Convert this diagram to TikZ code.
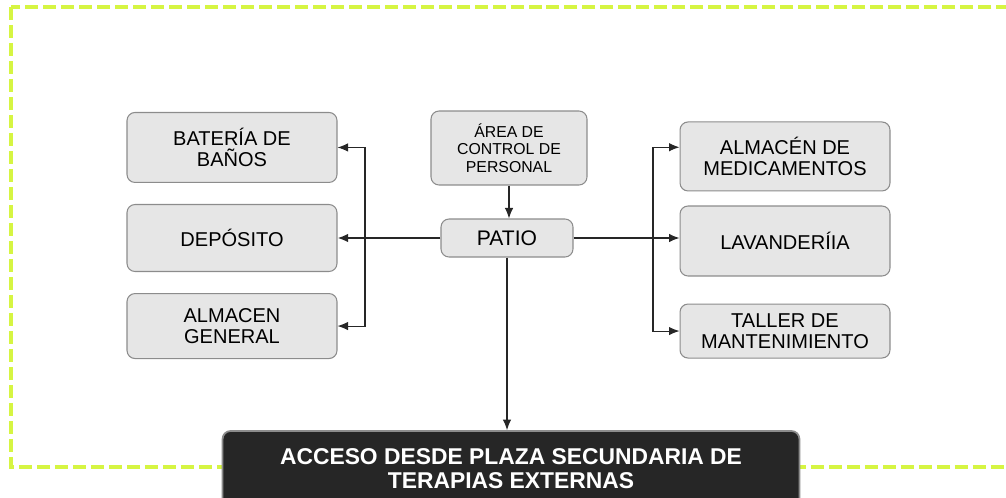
\documentclass[tikz,border=0pt]{standalone}
\usepackage{fontspec}
\setmainfont{Liberation Sans}
\usetikzlibrary{arrows.meta,positioning}

\definecolor{boxfill}{RGB}{230,230,230}
\definecolor{boxline}{RGB}{140,140,140}
\definecolor{darkfill}{RGB}{38,38,38}
\definecolor{lime}{RGB}{214,245,66}

\begin{document}
\begin{tikzpicture}[x=0.02cm,y=-0.02cm,>={Latex[length=2.1mm,width=1.7mm]},
                    line width=0.6pt]

  \tikzstyle{area}=[rectangle,draw=boxline,fill=boxfill,rounded corners=0.16cm,
                    align=center,inner sep=2pt]
  \tikzstyle{sidebox}=[area,minimum width=4.2cm,
                       font=\fontsize{11.4}{12}\selectfont]
  \tikzstyle{accessbox}=[rectangle,draw=boxline,fill=darkfill,text=white,
                         rounded corners=0.16cm,align=center,line width=1pt,
                         minimum width=11.54cm,minimum height=1.52cm,
                         font=\bfseries\fontsize{13}{13.6}\selectfont]
  \tikzstyle{link}=[->,black!85]

  \useasboundingbox (0,0) rectangle (1006,497);

  % frame
  \draw[lime,line width=2.2pt,dash pattern=on 0.26cm off 0.1cm]
    (11,7) rectangle (1040,467);

  % centre
  \node[area,minimum width=2.64cm,minimum height=0.76cm,
        font=\fontsize{12}{13}\selectfont] (patio) at (507,238) {PATIO};
  \node[area,minimum width=3.12cm,minimum height=1.48cm,
        font=\fontsize{9}{9.8}\selectfont] (ctrl) at (509,148)
        {ÁREA DE\\CONTROL DE\\PERSONAL};

  % left column
  \node[sidebox,minimum height=1.34cm] (dep) at (232,238) {DEPÓSITO};
  \node[sidebox,minimum height=1.4cm] (bat) [above=0.42cm of dep]
        {BATERÍA DE\\BAÑOS};
  \node[sidebox,minimum height=1.3cm] (alm) [below=0.42cm of dep]
        {ALMACEN\\GENERAL};

  % right column
  \node[sidebox,minimum height=1.4cm] (lav) at (785,241) {LAVANDERÍIA};
  \node[sidebox,minimum height=1.38cm] (med) [above=0.28cm of lav]
        {ALMACÉN DE\\MEDICAMENTOS};
  \node[sidebox,minimum height=1.08cm] (tal) [below=0.54cm of lav]
        {TALLER DE\\MANTENIMIENTO};

  % exit
  \node[accessbox] (acc) at (511,469)
        {ACCESO DESDE PLAZA SECUNDARIA DE\\TERAPIAS EXTERNAS};

  \coordinate (jl) at (365,238);
  \coordinate (jr) at (653,238);

  \draw[link] (ctrl.south) -- (ctrl.south |- patio.north);
  \draw[link] (patio.south) -- (patio.south |- acc.north);
  \draw[link,line width=1pt] (patio) -- (dep);
  \draw[link] (jl) |- (bat.east);
  \draw[link] (jl) |- (alm.east);
  \draw[link] (patio.east) -- (patio.east -| lav.west);
  \draw[link] (jr) |- (med.175);
  \draw[link] (jr) |- (tal.west);
\end{tikzpicture}
\end{document}
